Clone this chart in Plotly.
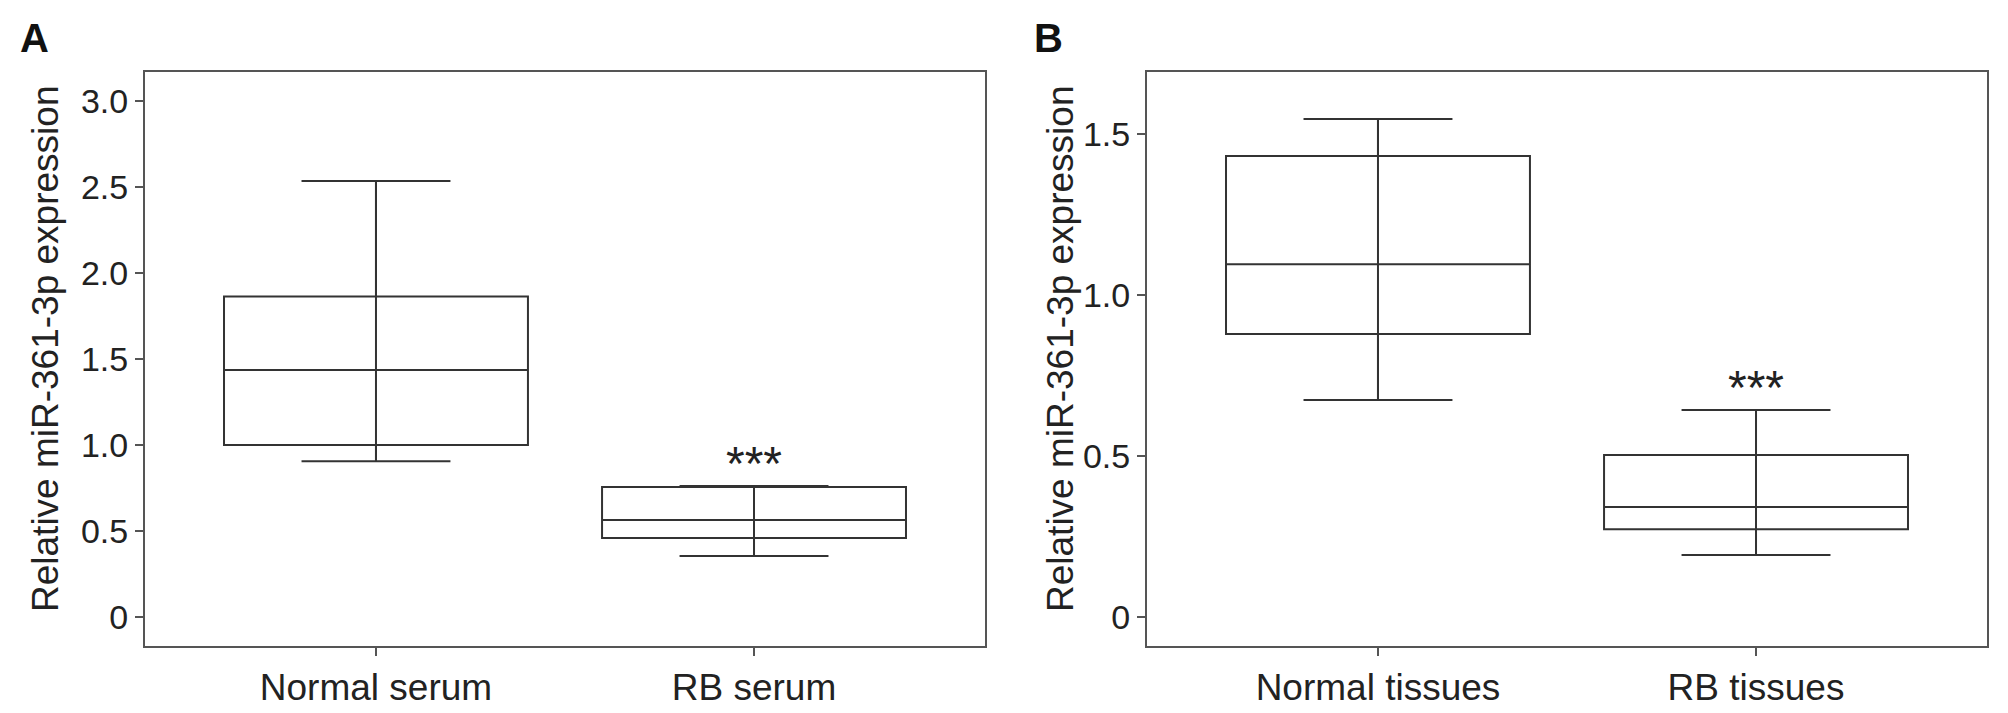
import plotly.graph_objects as go

# Page is rendered with the browser's default 8px body margin
OFF = 8
W, H = 2008 - OFF, 713 - OFF

# Panel A data (serum)
cats_a = ["Normal serum", "RB serum"]
lower_a = [0.905, 0.355]
q1_a = [1.000, 0.459]
median_a = [1.436, 0.564]
q3_a = [1.864, 0.756]
upper_a = [2.535, 0.762]
yticks_a = [0, 0.5, 1.0, 1.5, 2.0, 2.5, 3.0]
yticktext_a = ["0", "0.5", "1.0", "1.5", "2.0", "2.5", "3.0"]

# Panel B data (tissues)
cats_b = ["Normal tissues", "RB tissues"]
lower_b = [0.674, 0.193]
q1_b = [0.879, 0.273]
median_b = [1.096, 0.342]
q3_b = [1.432, 0.503]
upper_b = [1.547, 0.643]
yticks_b = [0, 0.5, 1.0, 1.5]
yticktext_b = ["0", "0.5", "1.0", "1.5"]

sig_label = "***"
y_title = "Relative miR-361-3p expression"

FONT = "Liberation Sans, Arial, sans-serif"
LINE = "#333333"
FRAME = "#555555"
FS = 37
FS_YT = 34


def px(x):
    return (x - OFF) / W


def py(y):
    return (H - (y - OFF)) / H


fig = go.Figure()


def add_boxes(xaxis, yaxis, cats, lo, q1, med, q3, hi):
    pos = list(range(len(cats)))
    fig.add_trace(go.Box(
        x=pos,
        lowerfence=lo, q1=q1, median=med, q3=q3, upperfence=hi,
        xaxis=xaxis, yaxis=yaxis,
        width=0.804, whiskerwidth=0.49,
        line=dict(color=LINE, width=2),
        fillcolor="rgba(255,255,255,0)",
        boxpoints=False, showlegend=False, hoverinfo="skip",
    ))
    # vertical whisker line running through the box
    xs, ys = [], []
    for i in pos:
        xs += [i, i, None]
        ys += [lo[i], hi[i], None]
    fig.add_trace(go.Scatter(
        x=xs, y=ys, mode="lines", xaxis=xaxis, yaxis=yaxis,
        line=dict(color=LINE, width=2), showlegend=False, hoverinfo="skip",
    ))


add_boxes("x", "y", cats_a, lower_a, q1_a, median_a, q3_a, upper_a)
add_boxes("x2", "y2", cats_b, lower_b, q1_b, median_b, q3_b, upper_b)

ydom = [py(646), py(72)]

common_x = dict(
    range=[-0.611, 1.611], showline=True, mirror=True, linecolor=FRAME, linewidth=2,
    ticks="outside", ticklen=8, tickwidth=2, tickcolor=FRAME,
    showgrid=False, zeroline=False, tickvals=[0, 1],
    tickfont=dict(family=FONT, size=FS, color="#222"),
    fixedrange=True,
)
common_y = dict(
    showline=True, mirror=True, linecolor=FRAME, linewidth=2,
    ticks="outside", ticklen=8, tickwidth=2, tickcolor=FRAME,
    showgrid=False, zeroline=False,
    tickfont=dict(family=FONT, size=FS_YT, color="#222"),
    domain=ydom, fixedrange=True,
)

fig.update_layout(
    width=W, height=H,
    margin=dict(l=0, r=0, t=0, b=0),
    paper_bgcolor="white", plot_bgcolor="white",
    xaxis=dict(common_x, domain=[px(145), px(985)], ticktext=cats_a, anchor="y"),
    xaxis2=dict(common_x, domain=[px(1147), px(1987)], ticktext=cats_b, anchor="y2"),
    yaxis=dict(common_y, range=[-0.169, 3.169], tickvals=yticks_a, ticktext=yticktext_a, anchor="x"),
    yaxis2=dict(common_y, range=[-0.09, 1.693], tickvals=yticks_b, ticktext=yticktext_b, anchor="x2"),
)

ann = []
# significance markers
ann.append(dict(x=1, y=upper_a[1], xref="x", yref="y", text=sig_label, showarrow=False,
                yanchor="bottom", yshift=-6, font=dict(family=FONT, size=48, color="#222")))
ann.append(dict(x=1, y=upper_b[1], xref="x2", yref="y2", text=sig_label, showarrow=False,
                yanchor="bottom", yshift=-6, font=dict(family=FONT, size=48, color="#222")))
# y titles
for xpx in (45, 1060):
    ann.append(dict(x=px(xpx), y=py(349), xref="paper", yref="paper", text=y_title,
                    textangle=-90, showarrow=False, xanchor="center", yanchor="middle",
                    font=dict(family=FONT, size=FS, color="#222")))
# panel letters
for txt, xpx in (("A", 18), ("B", 1032)):
    ann.append(dict(x=px(xpx), y=py(14), xref="paper", yref="paper", text="<b>%s</b>" % txt,
                    showarrow=False, xanchor="left", yanchor="top",
                    font=dict(family=FONT, size=40, color="#111")))
fig.update_layout(annotations=ann)

fig.write_html("out.html")
